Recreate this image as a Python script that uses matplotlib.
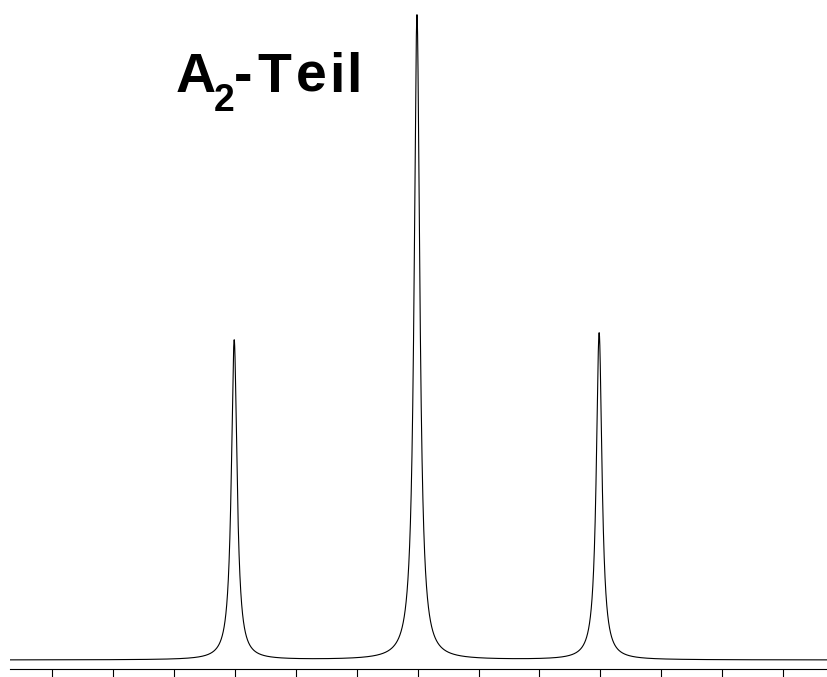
import numpy as np
import matplotlib
matplotlib.use("Agg")
import matplotlib.pyplot as plt

# peak list (x in tick units, height in % of the largest line)
peak_pos = [2.99, 5.99, 8.98]
peak_height = [49.6, 100.0, 50.7]
peak_hwhm = [0.056, 0.056, 0.056]
tick_pos = [0, 1, 2, 3, 4, 5, 6, 7, 8, 9, 10, 11, 12]
title_main = "A"
title_sub = "2"
title_rest = "-Teil"

W, H = 827, 677
fig = plt.figure(figsize=(W / 100, H / 100), dpi=100)
ax = fig.add_axes([10 / W, 8 / H, 817 / W, 669 / H])

xmin, xmax = -0.69, 12.72
x = np.linspace(xmin, xmax, 40000)
spec = np.zeros_like(x)
for p, h, g in zip(peak_pos, peak_height, peak_hwhm):
    spec += h / (1 + ((x - p) / g) ** 2)  # lorentzian line shape

ax.plot(x, spec, color="black", lw=0.8, solid_joinstyle="round")
ax.set_xlim(xmin, xmax)
ax.set_ylim(-1.395, 102.3)

for s in ["top", "left", "right"]:
    ax.spines[s].set_visible(False)
ax.spines["bottom"].set_linewidth(0.8)
ax.set_yticks([])
ax.set_xticks(tick_pos)
ax.tick_params(axis="x", direction="out", length=6, width=0.8, labelbottom=False)

# title: the original is set with a little extra letter spacing
font = "Liberation Sans"
kw = dict(fontweight="bold", family=font, va="baseline", ha="left")
fig.text(176 / W, 1 - 92 / H, title_main, fontsize=40, **kw)
fig.text(214 / W, 1 - 111 / H, title_sub, fontsize=27, **kw)
rest_x = [234, 257, 296, 329, 346]
for ch, px in zip(title_rest, rest_x):
    fig.text(px / W, 1 - 92 / H, ch, fontsize=40, **kw)

fig.savefig("out.png", dpi=100)
